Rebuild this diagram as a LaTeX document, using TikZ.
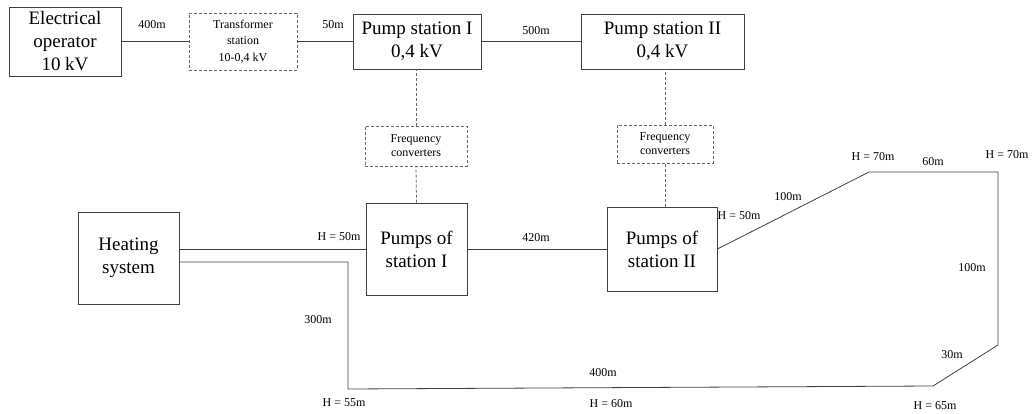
\documentclass[tikz,border=0pt]{standalone}
\usepackage{fontspec}
\setmainfont{Liberation Serif}
\begin{document}
\begin{tikzpicture}[x=1pt,y=-1pt,
    box/.style={draw=black!75,line width=.8pt,align=center,inner sep=0pt,font=\fontsize{19}{23}\selectfont},
    dbox/.style={draw=black!60,line width=.8pt,dash pattern=on 3pt off 2pt,align=center,inner sep=0pt,font=\fontsize{12}{14}\selectfont},
    pipe/.style={black!75,line width=.8pt},
    wire/.style={black!60,line width=.8pt,dash pattern=on 3pt off 2pt},
    lab/.style={font=\fontsize{12}{14}\selectfont,inner sep=0pt}]
\useasboundingbox (0,0) rectangle (1032,414);
% electrical part
\node[box,minimum width=112,minimum height=69](op) at (65,41.5){Electrical\\operator\\10 kV};
\node[dbox,minimum width=108,minimum height=57,font=\fontsize{12}{16.5}\selectfont](tr) at (243,41.5){Transformer\\station\\10-0,4 kV};
\node[box,minimum width=128,minimum height=55](ps1) at (417,41.5){Pump station I\\0,4 kV};
\node[box,minimum width=163,minimum height=55](ps2) at (662.5,41.5){Pump station II\\0,4 kV};
\node[dbox,minimum width=102,minimum height=40](fc1) at (416,146){Frequency\\converters};
\node[dbox,minimum width=96,minimum height=38](fc2) at (665,144){Frequency\\converters};
\draw[pipe](op)--(tr);
\draw[pipe](tr)--(ps1);
\draw[pipe](ps1)--(ps2);
\draw[wire](fc1.north)--(fc1.north|-ps1.south);
\draw[wire](fc2.north)--(fc2.north|-ps2.south);
\node[lab](l1) at (152,25){400m};
\node[lab](l2) at (333,25){50m};
\node[lab](l3) at (536,31){500m};
% heating network
\node[box,minimum width=101,minimum height=92](hs) at (128.5,258){Heating\\system};
\node[box,minimum width=101,minimum height=92](pu1) at (416.5,249){Pumps of\\station I};
\node[box,minimum width=110,minimum height=84](pu2) at (662,249){Pumps of\\station II};
\draw[wire](pu1.north)--(fc1.south);
\draw[wire](pu2.north-|fc2)--(fc2.south);
\coordinate(a) at (869,172);
\coordinate(b) at (998,172);
\coordinate(c) at (998,345);
\coordinate(d) at (933,386);
\coordinate(e) at (348,389);
\coordinate(f) at (348,262);
\draw[pipe](hs.east|-pu1.west)--(pu1.west);
\draw[pipe](pu1)--(pu2);
\draw[pipe](pu2.east)--(a)--(b)--(c)--(d)--(e)--(f)--(hs.east|-f);
\node[lab](h1) at (339,237){H = 50m};
\node[lab](l4) at (536,238){420m};
\node[lab](h2) at (739,216){H = 50m};
\node[lab](l5) at (788,197){100m};
\node[lab](h3) at (873,157){H = 70m};
\node[lab](l6) at (933,162){60m};
\node[lab](h4) at (1007,155){H = 70m};
\node[lab](l7) at (972,268){100m};
\node[lab](l8) at (952,355){30m};
\node[lab](l9) at (603,373){400m};
\node[lab](h5) at (611,404){H = 60m};
\node[lab](h6) at (935,406){H = 65m};
\node[lab](l10) at (318,320){300m};
\node[lab](h7) at (344,403){H = 55m};
\end{tikzpicture}
\end{document}
